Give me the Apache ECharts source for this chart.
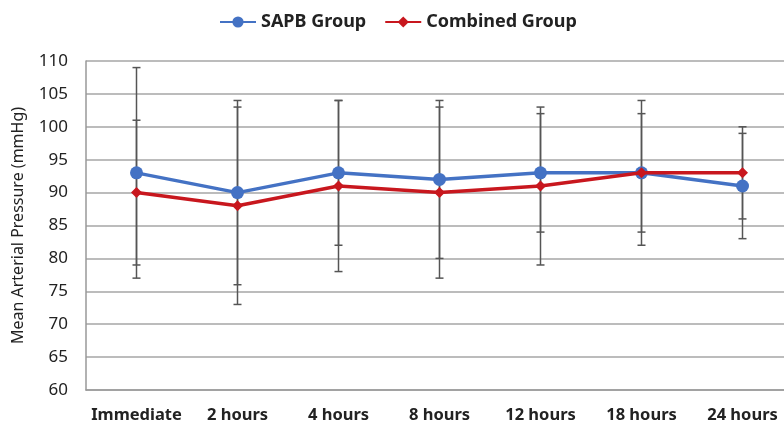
<!DOCTYPE html>
<html><head><meta charset="utf-8">
<script src="https://cdn.jsdelivr.net/npm/echarts@6/dist/echarts.min.js"></script>
<style>html,body{margin:0;padding:0;background:#fff}#c{width:784px;height:428px}</style>
</head><body><div id="c"></div>
<script>
var categories = ['Immediate','2 hours','4 hours','8 hours','12 hours','18 hours','24 hours'];
var sapbMean = [93, 90, 93, 92, 93, 93, 91];
var sapbLow  = [77, 76, 82, 80, 84, 82, 83];
var sapbHigh = [109, 104, 104, 104, 102, 104, 99];
var combMean = [90, 88, 91, 90, 91, 93, 93];
var combLow  = [79, 73, 78, 77, 79, 84, 86];
var combHigh = [101, 103, 104, 103, 103, 102, 100];
var yTicks = [60, 65, 70, 75, 80, 85, 90, 95, 100, 105, 110];

function errData(low, high){ return low.map(function(l,i){ return [i, l, high[i]]; }); }
function renderErr(params, api){
  var x = api.value(0), lo = api.coord([x, api.value(1)]), hi = api.coord([x, api.value(2)]);
  var w = 4, st = {stroke:'#555', lineWidth:1.5};
  return {type:'group', children:[
    {type:'line', shape:{x1:lo[0],y1:lo[1],x2:hi[0],y2:hi[1]}, style:st},
    {type:'line', shape:{x1:lo[0]-w,y1:lo[1],x2:lo[0]+w,y2:lo[1]}, style:st},
    {type:'line', shape:{x1:hi[0]-w,y1:hi[1],x2:hi[0]+w,y2:hi[1]}, style:st}
  ]};
}
var ff = '"Noto Sans", sans-serif';
var chart = echarts.init(document.getElementById('c'), null, {renderer:'canvas'});
chart.setOption({
  animation:false,
  textStyle:{fontFamily:ff},
  legend:{top:8, left:214, itemWidth:36, itemHeight:14, itemGap:18,
    textStyle:{fontFamily:ff, fontWeight:'bold', fontSize:18, color:'#222'},
    data:['SAPB Group','Combined Group']},
  grid:{left:86, width:707, top:61, bottom:38, containLabel:false, outerBoundsMode:'none'},
  xAxis:{type:'category', data:categories, boundaryGap:true,
    axisLine:{lineStyle:{color:'#999', width:1.5}}, axisTick:{show:false},
    axisLabel:{fontFamily:ff, fontWeight:'bold', fontSize:16.5, color:'#222', margin:17, interval:0}},
  yAxis:{type:'value', min:yTicks[0], max:yTicks[yTicks.length-1], interval:5,
    name:'Mean Arterial Pressure (mmHg)', nameLocation:'middle', nameGap:60,
    nameTextStyle:{fontFamily:ff, fontSize:16, color:'#222'},
    axisLine:{show:true, lineStyle:{color:'#999', width:1.5}}, axisTick:{show:false},
    axisLabel:{fontFamily:ff, fontSize:17, color:'#222', margin:18},
    splitLine:{lineStyle:{color:'#a6a6a6', width:1.5}}},
  series:[
    {name:'SAPB err', type:'custom', renderItem:renderErr, data:errData(sapbLow,sapbHigh), z:1, silent:true},
    {name:'Combined err', type:'custom', renderItem:renderErr, data:errData(combLow,combHigh), z:1, silent:true},
    {name:'SAPB Group', type:'line', data:sapbMean, z:3, symbol:'circle', symbolSize:13,
      lineStyle:{color:'#4472C4', width:3.5}, itemStyle:{color:'#4472C4'}},
    {name:'Combined Group', type:'line', data:combMean, z:4, symbol:'diamond', symbolSize:11,
      lineStyle:{color:'#C8171E', width:3.5}, itemStyle:{color:'#C8171E'}}
  ]
});
</script></body></html>
